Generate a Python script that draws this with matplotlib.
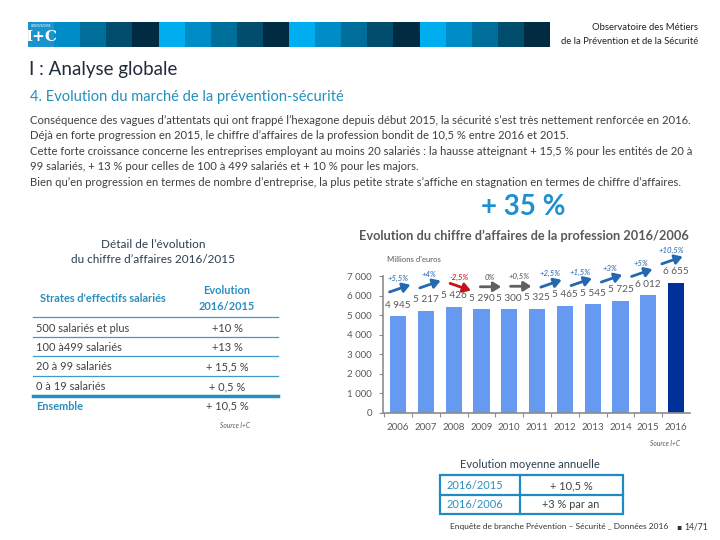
import matplotlib
matplotlib.use("Agg")
import matplotlib.pyplot as plt
from matplotlib.patches import Rectangle
from matplotlib.lines import Line2D
from matplotlib.transforms import offset_copy

plt.rcParams['font.family'] = ['Lato', 'DejaVu Sans']

# ---------------- data ----------------
years = ["2006", "2007", "2008", "2009", "2010", "2011", "2012", "2013", "2014", "2015", "2016"]
ca_values = [4945, 5217, 5426, 5290, 5300, 5325, 5465, 5545, 5725, 6012, 6655]
value_labels = ["4 945", "5 217", "5 426", "5 290", "5 300", "5 325", "5 465", "5 545", "5 725", "6 012", "6 655"]
growth_labels = ["+5,5%", "+4%", "-2,5%", "0%", "+0,5%", "+2,5%", "+1,5%", "+3%", "+5%", "+10,5%"]
growth_dir = [1, 1, -1, 0, 0, 1, 1, 1, 1, 1]
y_ticks = [0, 1000, 2000, 3000, 4000, 5000, 6000, 7000]
y_tick_labels = ["0", "1 000", "2 000", "3 000", "4 000", "5 000", "6 000", "7 000"]

strates = ["500 salariés et plus", "100 à499 salariés", "20 à 99 salariés", "0 à 19 salariés"]
strates_evol = ["+10 %", "+13 %", "+ 15,5 %", "+ 0,5 %"]
ensemble_label = "Ensemble"
ensemble_evol = "+ 10,5 %"

moy_periods = ["2016/2015", "2016/2006"]
moy_values = ["+ 10,5 %", "+3 % par an"]

body_lines = [
    "Conséquence des vagues d’attentats qui ont frappé l’hexagone depuis début 2015, la sécurité s’est très nettement renforcée en 2016.",
    "Déjà en forte progression en 2015, le chiffre d’affaires de la profession bondit de 10,5 % entre 2016 et 2015.",
    "Cette forte croissance concerne les entreprises employant au moins 20 salariés : la hausse atteignant + 15,5 % pour les entités de 20 à",
    "99 salariés, + 13 % pour celles de 100 à 499 salariés et + 10 % pour les majors.",
    "Bien qu’en progression en termes de nombre d’entreprise, la plus petite strate s’affiche en stagnation en termes de chiffre d’affaires.",
]

band_colors = ["#00AEEF", "#008CC6", "#006E9A", "#004D6E", "#002B40"]

W, H = 720, 540
fig = plt.figure(figsize=(7.2, 5.4), dpi=100)


def P(x, y):
    return (x / W, 1 - y / H)


def T(x, y, s, **kw):
    fig.text(x / W, 1 - y / H, s, **kw)


# ---------------- header band ----------------
n_seg = 20
x0, x1 = 28, 550
seg_w = (x1 - x0) / n_seg
for i in range(n_seg):
    col = band_colors[i % 5] if i > 0 else "#1A93CF"
    fig.patches.append(Rectangle(P(x0 + i * seg_w, 47), seg_w / W, 25 / H,
                                 transform=fig.transFigure, facecolor=col, edgecolor='none'))
T(41, 37, "I+C", color='white', fontsize=11, fontweight='bold', ha='center', va='center',
  family=['DejaVu Serif'])
T(41, 26, "OBSERVATOIRE", color='white', fontsize=2, ha='center', va='center')

T(698, 27, "Observatoire des Métiers", fontsize=6.8, color='#222222', ha='right', va='center')
T(698, 41, "de la Prévention et de la Sécurité", fontsize=6.8, color='#222222', ha='right', va='center')

# ---------------- titles & body ----------------
T(29, 70, "I : Analyse globale", fontsize=13.5, color='#1F2D3A', ha='left', va='center')
T(30, 97, "4. Evolution du marché de la prévention-sécurité", fontsize=10.5, color='#2090BC',
  ha='left', va='center')
for i, line in enumerate(body_lines):
    T(30, 120 + i * 15.6, line, fontsize=8.1, color='#3F3F3F', ha='left', va='center')

T(523, 207, "+ 35 %", fontsize=20, fontweight='bold', color='#1E90D0', ha='center', va='center')

# ---------------- left table ----------------
T(153, 244, "Détail de l’évolution", fontsize=8.5, color='#2C3E50', ha='center', va='center')
T(153, 260, "du chiffre d’affaires 2016/2015", fontsize=8.5, color='#2C3E50', ha='center', va='center')
teal = '#2A8FBF'
T(40, 299, "Strates d'effectifs salariés", fontsize=7.9, fontweight='bold', color=teal, ha='left', va='center')
T(227, 291, "Evolution", fontsize=7.9, fontweight='bold', color=teal, ha='center', va='center')
T(227, 306, "2016/2015", fontsize=7.9, fontweight='bold', color=teal, ha='center', va='center')
row_y0, row_dy = 328, 19.5
for i, (lab, val) in enumerate(zip(strates, strates_evol)):
    yy = row_y0 + i * row_dy
    T(36, yy, lab, fontsize=7.9, color='#404040', ha='left', va='center')
    T(227, yy, val, fontsize=7.9, color='#404040', ha='center', va='center')
    fig.lines.append(Line2D([33 / W, 278 / W], [1 - (yy - 11) / H] * 2, transform=fig.transFigure,
                            color='#3A9CCB', lw=0.9))
ens_y = row_y0 + len(strates) * row_dy
fig.lines.append(Line2D([33 / W, 278 / W], [1 - (ens_y - 10) / H] * 2, transform=fig.transFigure,
                        color='#2A8DC0', lw=2.5))
T(36, ens_y, ensemble_label, fontsize=7.9, fontweight='bold', color=teal, ha='left', va='center')
T(227, ens_y, ensemble_evol, fontsize=7.9, color='#404040', ha='center', va='center')
T(235, 425, "Source I+C", fontsize=4.8, style='italic', color='#595959', ha='center', va='center')

# ---------------- bar chart ----------------
ax_l, ax_r, ax_b, ax_t = 383, 690, 413, 276
ax = fig.add_axes([ax_l / W, 1 - ax_b / H, (ax_r - ax_l) / W, (ax_b - ax_t) / H])
xs = list(range(len(years)))
bar_cols = ['#6699F0'] * (len(years) - 1) + ['#00309A']
ax.bar(xs, ca_values, width=0.58, color=bar_cols, zorder=2)
ax.set_xlim(-0.54, 10.5)
ax.set_ylim(0, 7000)
ax.set_yticks(y_ticks)
ax.set_yticklabels(y_tick_labels)
ax.set_xticks(xs)
ax.set_xticklabels(years)
ax.set_xticks([x + 0.5 for x in xs[:-1]] + [-0.5], minor=True)
ax.tick_params(axis='both', labelsize=7, colors='#8C8C8C', labelcolor='#595959', length=3, width=0.8)
ax.tick_params(axis='x', which='major', length=0, pad=7)
ax.tick_params(axis='x', which='minor', length=3, width=0.8, colors='#8C8C8C')
ax.tick_params(axis='y', pad=5)
for s in ['top', 'right']:
    ax.spines[s].set_visible(False)
for s in ['left', 'bottom']:
    ax.spines[s].set_color('#8C8C8C')
    ax.spines[s].set_linewidth(1.2)
ax.set_facecolor('none')

for x, v, lab in zip(xs, ca_values, value_labels):
    ax.annotate(lab, (x, v), xytext=(0, 8), textcoords='offset points', ha='center', va='center',
                fontsize=7.2, color='#595959', annotation_clip=False)

arrow_cols = {1: '#2468B0', -1: '#C0141C', 0: '#606060'}
label_cols = {1: '#1F5FAF', -1: '#C00000', 0: '#505050'}
for k, (glab, d) in enumerate(zip(growth_labels, growth_dir)):
    xc = 0.07 + k * 1.088
    yc = ca_values[k + 1] + 1150
    dy = 2.6 * d
    start_tr = offset_copy(ax.transData, fig=fig, x=-7.5, y=-dy, units='points')
    end_tr = offset_copy(ax.transData, fig=fig, x=7.5, y=dy, units='points')
    ax.annotate("", xy=(xc, yc), xycoords=end_tr, xytext=(xc, yc), textcoords=start_tr,
                arrowprops=dict(arrowstyle='-|>,head_length=0.45,head_width=0.28', color=arrow_cols[d],
                                lw=2.0, shrinkA=0, shrinkB=0),
                annotation_clip=False)
    ax.annotate(glab, (xc, yc), xytext=(-1, 7), textcoords='offset points', ha='center', va='center',
                fontsize=5.6, style='italic', color=label_cols[d], annotation_clip=False)

T(524, 236, "Evolution du chiffre d’affaires de la profession 2016/2006", fontsize=9.2,
  color='#595959', fontweight='bold', ha='center', va='center')
T(387, 259, "Millions d'euros", fontsize=5.6, color='#595959', ha='left', va='center')
T(665, 444, "Source I+C", fontsize=4.8, style='italic', color='#595959', ha='center', va='center')

# ---------------- bottom box ----------------
T(530, 465, "Evolution moyenne annuelle", fontsize=8, color='#2C3E50', ha='center', va='center')
bx0, bx1, by0, by1, bxm = 440, 623, 475, 514, 520
fig.patches.append(Rectangle(P(bx0, by1), (bx1 - bx0) / W, (by1 - by0) / H, transform=fig.transFigure,
                             facecolor='none', edgecolor='#1E8BC3', lw=1.6))
fig.lines.append(Line2D([bx0 / W, bx1 / W], [1 - (by0 + by1) / 2 / H] * 2, transform=fig.transFigure,
                        color='#1E8BC3', lw=1.6))
fig.lines.append(Line2D([bxm / W, bxm / W], [1 - by0 / H, 1 - by1 / H], transform=fig.transFigure,
                        color='#1E8BC3', lw=1.6))
for i, (p, v) in enumerate(zip(moy_periods, moy_values)):
    yy = by0 + 10.5 + i * 19.5
    T(446, yy, p, fontsize=7.9, color='#2A8FBF', ha='left', va='center')
    T(571, yy, v, fontsize=7.9, color='#404040', ha='center', va='center')

T(450, 527, "Enquête de branche Prévention – Sécurité _ Données 2016", fontsize=6.0, color='#333333',
  ha='left', va='center')
T(676, 527, "▪", fontsize=5.5, color='#333333', ha='left', va='center', family=['DejaVu Sans'])
T(684, 527, "14/71", fontsize=6.2, color='#333333', ha='left', va='center')

fig.savefig("out.png", dpi=100)
